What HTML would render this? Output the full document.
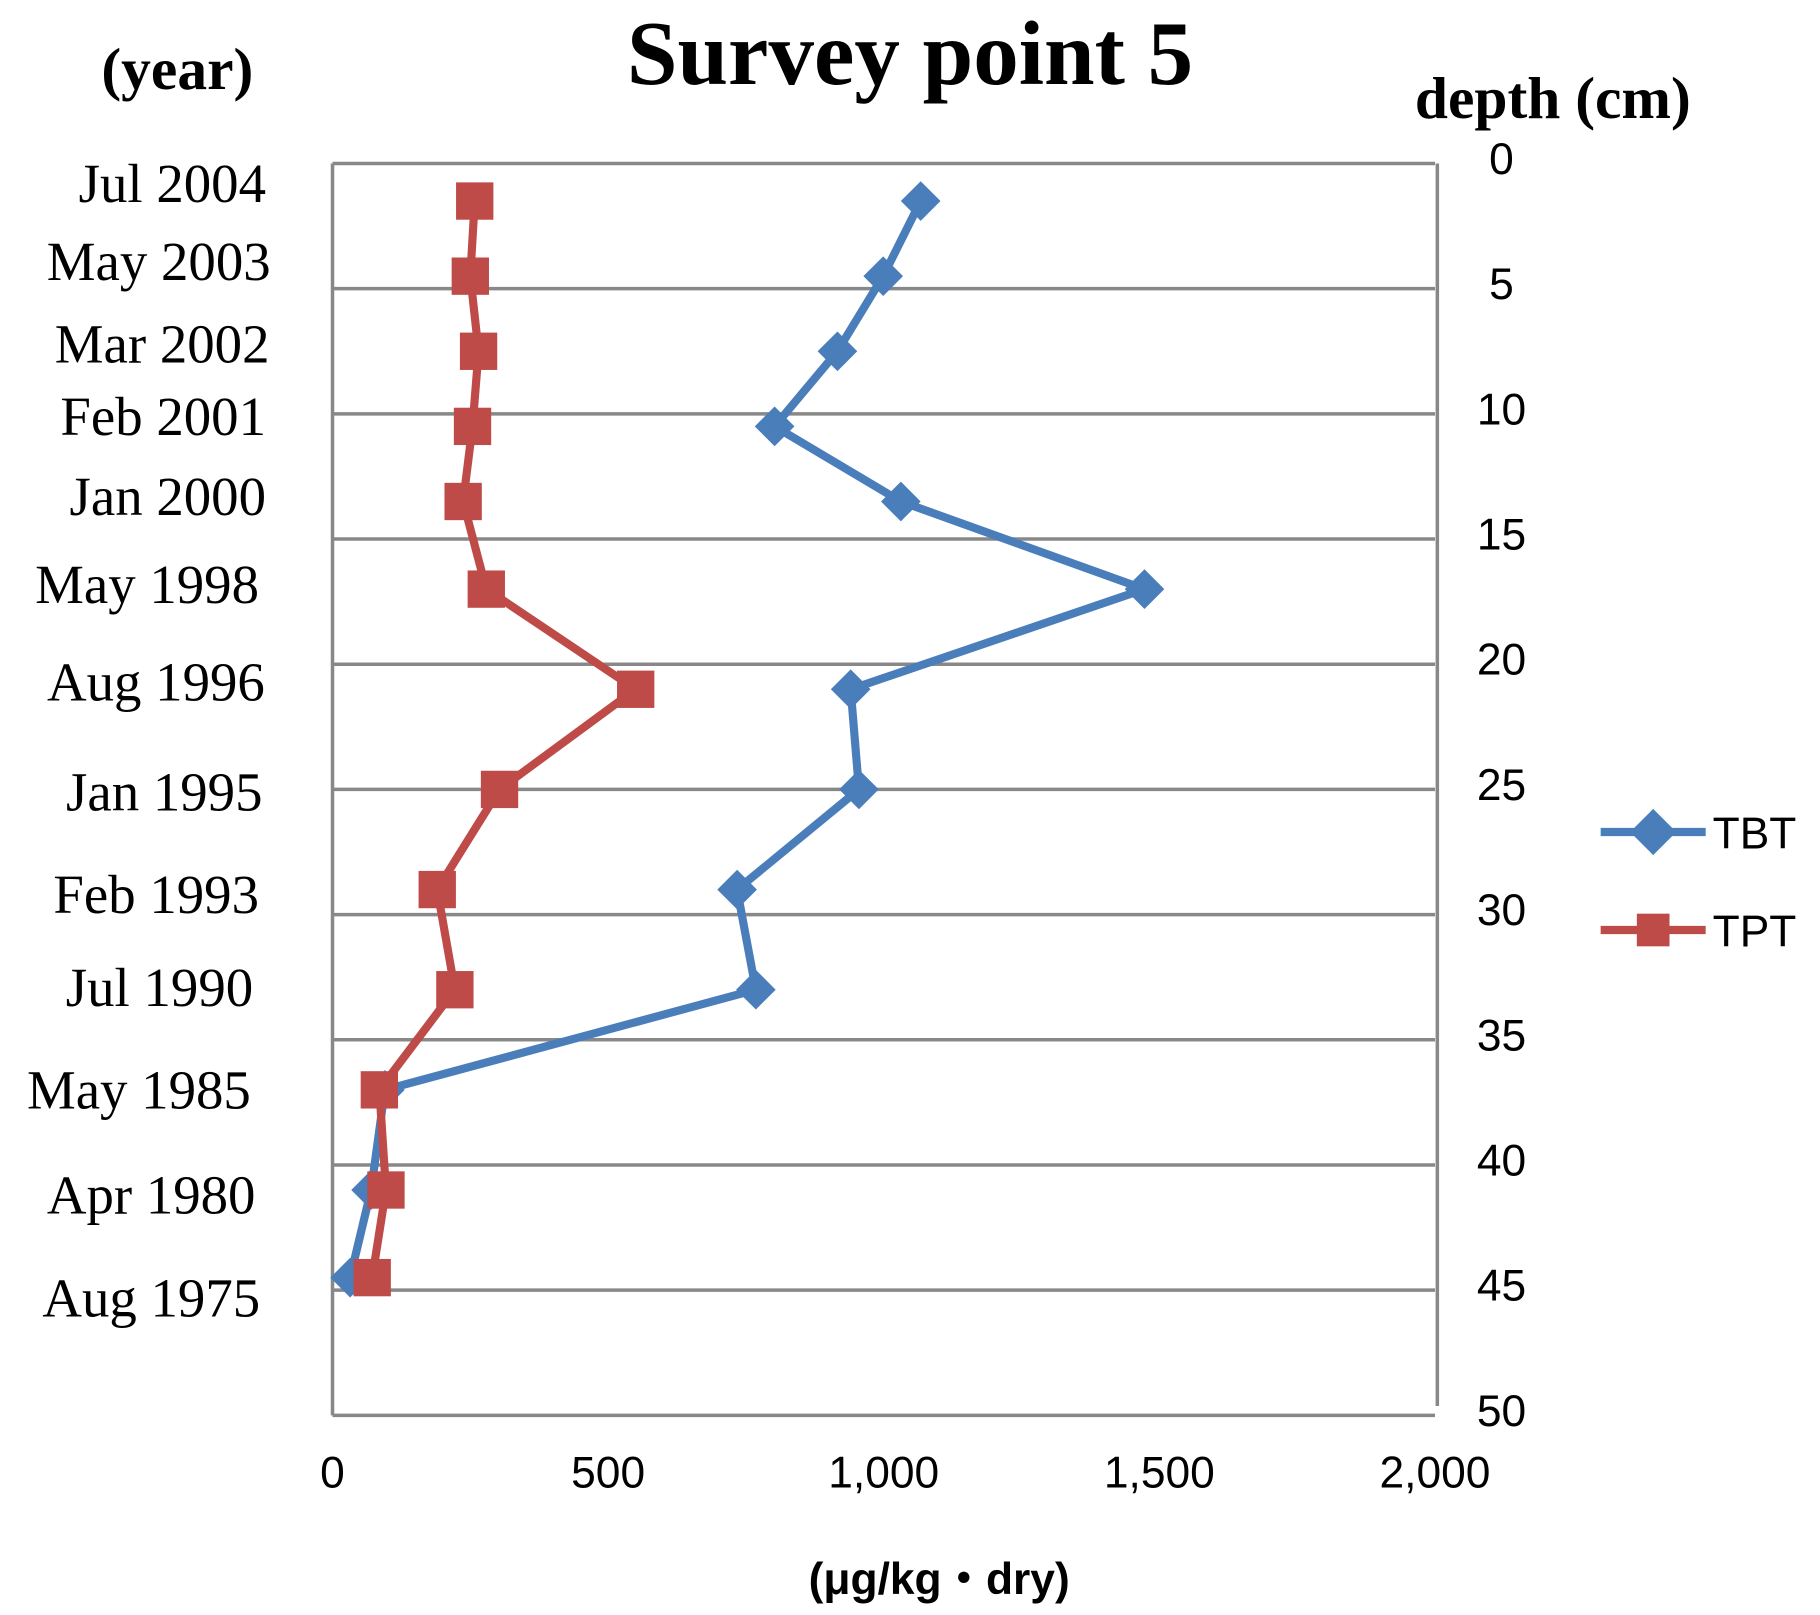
<!DOCTYPE html>
<html><head><meta charset="utf-8"><style>html,body{margin:0;padding:0;background:#fff}svg{display:block}</style></head>
<body>
<svg width="1820" height="1615" viewBox="0 0 1560 1384" xmlns="http://www.w3.org/2000/svg">
<text x="780" y="72" text-anchor="middle" font-family="Liberation Serif, serif" font-weight="bold" font-size="78">Survey point 5</text>
<text x="152" y="76" text-anchor="middle" font-family="Liberation Serif, serif" font-weight="bold" font-size="51">(year)</text>
<text x="1331" y="101" text-anchor="middle" font-family="Liberation Serif, serif" font-weight="bold" font-size="51">depth (cm)</text>
<text x="805" y="1366" text-anchor="middle" font-family="Liberation Sans, 'Noto Sans CJK JP', sans-serif" font-weight="bold" font-size="38">(μg/kg・dry)</text>
<g id="grid"></g>
<g id="axes"></g>
<g id="series"></g>
<g id="labels"></g>
<g font-family="Liberation Sans, sans-serif" font-size="38">
<line x1="1372" y1="713" x2="1462" y2="713" stroke="#4a7ebb" stroke-width="7"/>
<rect x="1403" y="699" width="28" height="28" fill="#4a7ebb" transform="rotate(45 1417 713)"/>
<text x="1468" y="727">TBT</text>
<line x1="1372" y1="797" x2="1462" y2="797" stroke="#be4b48" stroke-width="7"/>
<rect x="1403" y="783" width="28" height="28" fill="#be4b48"/>
<text x="1468" y="811">TPT</text>
</g>
<script>
const xTicks=[0,500,1000,1500,2000];
const xTickLabels=["0","500","1,000","1,500","2,000"];
const depthTicks=[0,5,10,15,20,25,30,35,40,45,50];
const depths=[1.5,4.5,7.5,10.5,13.5,17.0,21.0,25.0,29.0,33.0,37.0,41.0,44.5];
const tbt=[1067,999,916,802,1031,1473,940,955,734,768,95,70,32];
const tpt=[258,250,265,254,237,279,550,303,190,222,85,97,72];
const yearLabels=["Jul 2004","May 2003","Mar 2002","Feb 2001","Jan 2000","May 1998","Aug 1996","Jan 1995","Feb 1993","Jul 1990","May 1985","Apr 1980","Aug 1975"];
const yearDepths=[0.8,3.9,7.2,10.1,13.3,16.8,20.7,25.1,29.2,32.9,37.0,41.2,45.3];
const yearEnds=[228,232,231,228,228,222,227,225,222,217,215,219,223];
const NS='http://www.w3.org/2000/svg';
const L=285,R=1230,T=140,B=1213;
const X=v=>L+(R-L)*v/2000, Y=d=>T+(B-T)*d/50;
function mk(tag,attrs,parent){const e=document.createElementNS(NS,tag);for(const k in attrs)e.setAttribute(k,attrs[k]);document.getElementById(parent).appendChild(e);return e;}
depthTicks.forEach((d,i)=>{
 if(d>0&&d<50){const g=mk('line',{x1:L,x2:R,y1:Y(d),y2:Y(d),stroke:'#888',"stroke-width":3},'grid');
 
 }
 const t=mk('text',{x:1287,y:Y(d)+9,"text-anchor":"middle","font-family":"Liberation Sans, sans-serif","font-size":38},'labels');
 t.textContent=d;
 
 
});
[[L,T,R,T],[L,T,L,B],[L,B,R,B]].forEach(c=>{const a=mk('line',{x1:c[0],y1:c[1],x2:c[2],y2:c[3],stroke:'#888',"stroke-width":3},'axes');
 
 });
const ra=mk('line',{x1:R+2,y1:T,x2:R+2,y2:B-8,stroke:'#888',"stroke-width":3},'axes');


xTicks.forEach((v,i)=>{const t=mk('text',{x:X(v),y:1275,"text-anchor":"middle","font-family":"Liberation Sans, sans-serif","font-size":38},'labels');
 t.textContent=xTickLabels[i];
 
 });
yearLabels.forEach((s,i)=>{const t=mk('text',{x:yearEnds[i],y:Y(yearDepths[i])+16,"text-anchor":"end","font-family":"Liberation Serif, serif","font-size":47},'labels');
 t.textContent=s;
 
 });
function series(vals,color,name,shape){
 const pts=vals.map((v,i)=>X(v)+','+Y(depths[i])).join(' ');
 const pl=mk('polyline',{points:pts,fill:'none',stroke:color,"stroke-width":7,"stroke-linejoin":"round"},'series');
 
 
 vals.forEach((v,i)=>{const x=X(v),y=Y(depths[i]);let m;
  if(shape==='d'){m=mk('polygon',{points:`${x},${y-17} ${x+17},${y} ${x},${y+17} ${x-17},${y}`,fill:color},'series');}
  else{m=mk('rect',{x:x-16,y:y-16,width:32,height:32,fill:color},'series');}
  
  });
}
series(tbt,'#4a7ebb','tbt','d');
series(tpt,'#be4b48','tpt','s');
</script>
</svg>
</body></html>
